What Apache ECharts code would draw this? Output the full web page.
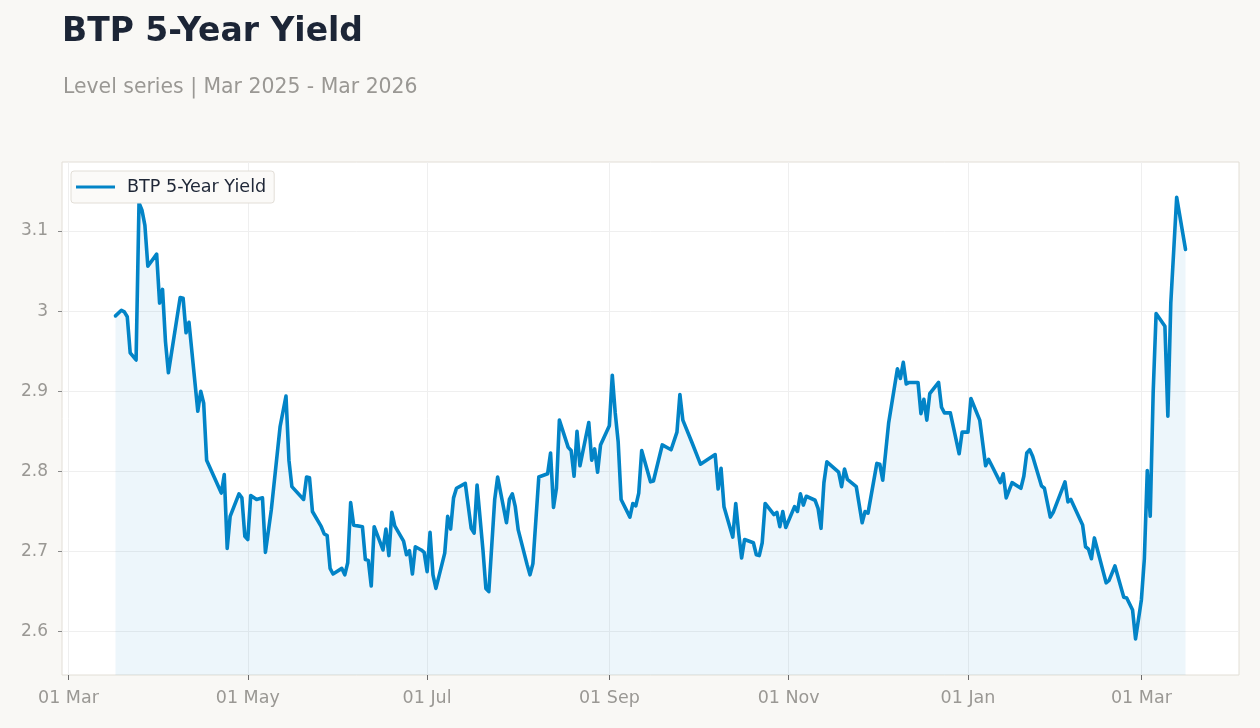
<!DOCTYPE html>
<html>
<head>
<meta charset="utf-8">
<title>BTP 5-Year Yield</title>
<script src="https://cdn.jsdelivr.net/npm/echarts@6/dist/echarts.min.js"></script>
<style>
  html, body { margin: 0; padding: 0; background: #f9f8f5; }
  #chart { width: 1260px; height: 728px; }
</style>
</head>
<body>
<div id="chart"></div>
<script>
// BTP 5-year yield, daily level, Mar 2025 - Mar 2026
var dates = [
  "2025-03-17","2025-03-19","2025-03-20","2025-03-21","2025-03-22","2025-03-24","2025-03-25","2025-03-26","2025-03-27","2025-03-28",
  "2025-03-31","2025-04-01","2025-04-02","2025-04-03","2025-04-04","2025-04-08","2025-04-09","2025-04-10","2025-04-11","2025-04-14",
  "2025-04-15","2025-04-16","2025-04-17","2025-04-22","2025-04-23","2025-04-24","2025-04-25","2025-04-28","2025-04-29","2025-04-30",
  "2025-05-01","2025-05-02","2025-05-04","2025-05-06","2025-05-07","2025-05-09","2025-05-12","2025-05-14","2025-05-15","2025-05-16",
  "2025-05-20","2025-05-21","2025-05-22","2025-05-23","2025-05-26","2025-05-27","2025-05-28","2025-05-29","2025-05-30","2025-06-02",
  "2025-06-03","2025-06-04","2025-06-05","2025-06-06","2025-06-09","2025-06-10","2025-06-11","2025-06-12","2025-06-13","2025-06-16",
  "2025-06-17","2025-06-18","2025-06-19","2025-06-20","2025-06-23","2025-06-24","2025-06-25","2025-06-26","2025-06-27","2025-06-29",
  "2025-06-30","2025-07-01","2025-07-02","2025-07-03","2025-07-04","2025-07-07","2025-07-08","2025-07-09","2025-07-10","2025-07-11",
  "2025-07-14","2025-07-16","2025-07-17","2025-07-18","2025-07-20","2025-07-21","2025-07-22","2025-07-24","2025-07-25","2025-07-28",
  "2025-07-29","2025-07-30","2025-07-31","2025-08-01","2025-08-04","2025-08-05","2025-08-06","2025-08-08","2025-08-11","2025-08-12",
  "2025-08-13","2025-08-14","2025-08-15","2025-08-18","2025-08-19","2025-08-20","2025-08-21","2025-08-22","2025-08-25","2025-08-26",
  "2025-08-27","2025-08-28","2025-08-29","2025-09-01","2025-09-02","2025-09-03","2025-09-04","2025-09-05","2025-09-08","2025-09-09",
  "2025-09-10","2025-09-11","2025-09-12","2025-09-15","2025-09-16","2025-09-19","2025-09-22","2025-09-24","2025-09-25","2025-09-26",
  "2025-09-29","2025-10-02","2025-10-07","2025-10-08","2025-10-09","2025-10-10","2025-10-13","2025-10-14","2025-10-15","2025-10-16",
  "2025-10-17","2025-10-20","2025-10-21","2025-10-22","2025-10-23","2025-10-24","2025-10-27","2025-10-28","2025-10-29","2025-10-30",
  "2025-10-31","2025-11-03","2025-11-04","2025-11-05","2025-11-06","2025-11-07","2025-11-10","2025-11-11","2025-11-12","2025-11-13",
  "2025-11-14","2025-11-18","2025-11-19","2025-11-20","2025-11-21","2025-11-24","2025-11-26","2025-11-27","2025-11-28","2025-12-01",
  "2025-12-02","2025-12-03","2025-12-04","2025-12-05","2025-12-08","2025-12-09","2025-12-10","2025-12-11","2025-12-12","2025-12-15",
  "2025-12-16","2025-12-17","2025-12-18","2025-12-19","2025-12-22","2025-12-23","2025-12-24","2025-12-26","2025-12-29","2025-12-30",
  "2026-01-01","2026-01-02","2026-01-05","2026-01-07","2026-01-08","2026-01-09","2026-01-12","2026-01-13","2026-01-14","2026-01-16",
  "2026-01-19","2026-01-20","2026-01-21","2026-01-22","2026-01-23","2026-01-26","2026-01-27","2026-01-29","2026-01-30","2026-02-03",
  "2026-02-04","2026-02-05","2026-02-09","2026-02-10","2026-02-11","2026-02-12","2026-02-13","2026-02-16","2026-02-17","2026-02-18",
  "2026-02-20","2026-02-23","2026-02-24","2026-02-26","2026-02-27","2026-03-01","2026-03-02","2026-03-03","2026-03-04","2026-03-05",
  "2026-03-06","2026-03-09","2026-03-10","2026-03-11","2026-03-13","2026-03-16"
];

var yields = [
  2.994, 3.001, 2.999, 2.993, 2.948, 2.939, 3.135, 3.126, 3.107, 3.056,
  3.071, 3.010, 3.027, 2.962, 2.923, 3.017, 3.016, 2.973, 2.986, 2.875,
  2.900, 2.885, 2.814, 2.773, 2.796, 2.704, 2.744, 2.772, 2.767, 2.719,
  2.715, 2.770, 2.765, 2.767, 2.699, 2.752, 2.856, 2.894, 2.814, 2.781,
  2.765, 2.793, 2.792, 2.750, 2.731, 2.722, 2.720, 2.679, 2.672, 2.679,
  2.671, 2.686, 2.761, 2.733, 2.731, 2.690, 2.689, 2.657, 2.731, 2.702,
  2.728, 2.695, 2.749, 2.732, 2.713, 2.696, 2.701, 2.672, 2.706, 2.702,
  2.699, 2.675, 2.724, 2.671, 2.654, 2.698, 2.744, 2.728, 2.767, 2.779,
  2.785, 2.729, 2.723, 2.783, 2.702, 2.654, 2.650, 2.765, 2.793, 2.736,
  2.765, 2.772, 2.756, 2.727, 2.684, 2.671, 2.685, 2.793, 2.797, 2.823,
  2.755, 2.779, 2.864, 2.830, 2.826, 2.794, 2.850, 2.807, 2.861, 2.814,
  2.828, 2.799, 2.833, 2.857, 2.920, 2.873, 2.837, 2.765, 2.743, 2.760,
  2.757, 2.773, 2.826, 2.787, 2.788, 2.833, 2.827, 2.849, 2.896, 2.864,
  2.837, 2.809, 2.821, 2.778, 2.804, 2.756, 2.718, 2.760, 2.723, 2.692,
  2.715, 2.711, 2.696, 2.695, 2.711, 2.760, 2.746, 2.749, 2.731, 2.750,
  2.730, 2.756, 2.750, 2.772, 2.758, 2.769, 2.764, 2.754, 2.729, 2.786,
  2.812, 2.799, 2.781, 2.803, 2.790, 2.781, 2.736, 2.750, 2.748, 2.810,
  2.809, 2.789, 2.824, 2.860, 2.928, 2.916, 2.936, 2.909, 2.911, 2.911,
  2.872, 2.890, 2.864, 2.897, 2.911, 2.880, 2.873, 2.873, 2.822, 2.849,
  2.849, 2.891, 2.864, 2.807, 2.815, 2.808, 2.786, 2.797, 2.767, 2.786,
  2.779, 2.794, 2.823, 2.827, 2.819, 2.782, 2.779, 2.743, 2.749, 2.787,
  2.762, 2.765, 2.733, 2.706, 2.703, 2.691, 2.717, 2.675, 2.661, 2.664,
  2.682, 2.643, 2.642, 2.627, 2.591, 2.640, 2.691, 2.801, 2.744, 2.898,
  2.997, 2.981, 2.869, 3.010, 3.142, 3.077
];

var xTicks = ["2025-03-01","2025-05-01","2025-07-01","2025-09-01","2025-11-01","2026-01-01","2026-03-01"];
var yTicks = [2.6, 2.7, 2.8, 2.9, 3.0, 3.1];
var seriesName = "BTP 5-Year Yield";

var MONTHS = ["Jan","Feb","Mar","Apr","May","Jun","Jul","Aug","Sep","Oct","Nov","Dec"];
var FONT = "DejaVu Sans";

function toTime(s) {
  var p = s.split("-");
  return new Date(+p[0], +p[1] - 1, +p[2]).getTime();
}

(function () {
  var el = document.getElementById("chart");
  var chart = echarts.init(el, null, { renderer: "canvas" });

  var pts = dates.map(function (d, i) { return [toTime(d), yields[i]]; });
  var t0 = pts[0][0], t1 = pts[pts.length - 1][0];
  var pad = (t1 - t0) * 0.05;
  var xTickTimes = xTicks.map(toTime);

  chart.setOption({
    backgroundColor: "#f9f8f5",
    animation: false,
    textStyle: { fontFamily: FONT },
    title: [
      {
        text: seriesName,
        left: 62, top: 16, padding: 0,
        textStyle: { fontFamily: FONT, fontSize: 33, fontWeight: "bold", color: "#1c2536" }
      },
      {
        text: "Level series | Mar 2025 - Mar 2026",
        left: 63, top: 78, padding: 0,
        textStyle: { fontFamily: FONT, fontSize: 20.4, fontWeight: "normal", color: "#9a9894" }
      }
    ],
    legend: {
      left: 71, top: 171,
      padding: [7, 8, 7, 5],
      backgroundColor: "#fbfaf8",
      borderColor: "#e2ded7",
      borderWidth: 1,
      borderRadius: 3,
      icon: "rect",
      itemWidth: 39,
      itemHeight: 3,
      textStyle: { fontFamily: FONT, fontSize: 17.6, color: "#1f2737", padding: [0, 0, 0, 7] },
      data: [seriesName]
    },
    grid: {
      left: 62, right: 21, top: 162, bottom: 53,
      show: true,
      backgroundColor: "#ffffff",
      borderColor: "#e2ded6",
      borderWidth: 1
    },
    xAxis: {
      type: "value",
      min: t0 - pad,
      max: t1 + pad,
      axisLine: { show: false },
      axisTick: { show: true, length: 5, lineStyle: { color: "#6b6b6b" }, customValues: xTickTimes },
      axisLabel: {
        customValues: xTickTimes,
        margin: 14,
        fontFamily: FONT, fontSize: 17.5, color: "#9a9894",
        formatter: function (v) {
          var d = new Date(v);
          var dd = d.getDate();
          return (dd < 10 ? "0" + dd : dd) + " " + MONTHS[d.getMonth()];
        }
      },
      splitLine: { show: true, lineStyle: { color: "#efefef", width: 1 } }
    },
    yAxis: {
      type: "value",
      min: 2.546,
      max: 3.186,
      axisLine: { show: false },
      axisTick: { show: true, length: 4, lineStyle: { color: "#8a8a8a" }, customValues: yTicks },
      axisLabel: {
        customValues: yTicks,
        margin: 14,
        fontFamily: FONT, fontSize: 17, color: "#9a9894",
        formatter: function (v) { return String(+(+v).toFixed(1)); }
      },
      splitLine: { show: true, lineStyle: { color: "#efefef", width: 1 } }
    },
    series: [
      {
        name: seriesName,
        type: "line",
        data: pts,
        symbol: "none",
        showSymbol: false,
        color: "#0284c7",
        lineStyle: { width: 3.6, color: "#0284c7", join: "round", cap: "round" },
        areaStyle: { color: "rgba(2,132,199,0.1)", origin: "start" }
      }
    ]
  });

  window.addEventListener("resize", function () { chart.resize(); });
})();
</script>
</body>
</html>
